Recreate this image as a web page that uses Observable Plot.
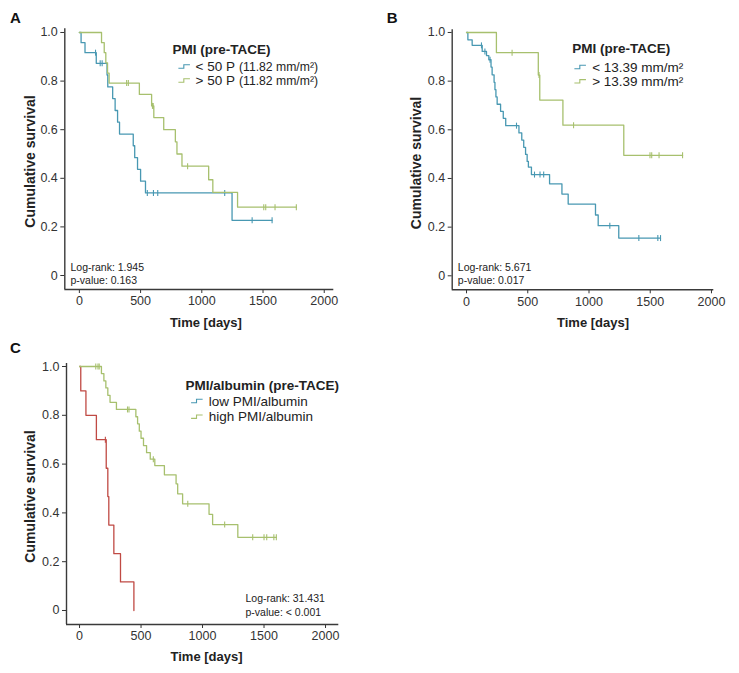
<!DOCTYPE html>
<html><head><meta charset="utf-8">
<script src="https://cdn.jsdelivr.net/npm/d3@7"></script>
<script src="https://cdn.jsdelivr.net/npm/@observablehq/plot@0.6"></script>
<style>
body{margin:0;background:#fff;font-family:"Liberation Sans",Arial,sans-serif;}
#root{position:relative;width:739px;height:673px;overflow:hidden;background:#fff;}
.panel{position:absolute;}
.letter{position:absolute;font-weight:bold;font-size:15px;line-height:15px;color:#111;}
</style></head><body><div id="root"></div>
<script>
// ---------- tick labels ----------
const xTicks = [0, 500, 1000, 1500, 2000];
const yTicks = [0, 0.2, 0.4, 0.6, 0.8, 1.0];

// ---------- Panel A: PMI (pre-TACE), 50th percentile ----------
const aLowTime = [0, 14, 46, 138, 226, 232, 272, 292, 312, 328, 440, 452, 475, 500, 540, 1247];
const aLowSurv = [1, 0.958, 0.917, 0.873, 0.825, 0.776, 0.728, 0.679, 0.631, 0.582, 0.534, 0.485, 0.437, 0.388, 0.34, 0.227];
const aLowCensor = [132, 170, 186, 555, 605, 640, 1187, 1411, 1574];
const aHighTime = [0, 181, 203, 216, 230, 243, 490, 590, 608, 689, 784, 797, 838, 1056, 1090, 1292];
const aHighSurv = [1, 0.958, 0.917, 0.875, 0.833, 0.792, 0.745, 0.698, 0.65, 0.60, 0.55, 0.50, 0.45, 0.394, 0.342, 0.281];
const aHighCensor = [386, 400, 597, 603, 884, 1506, 1522, 1598, 1772];
const aLegendTitle = "PMI (pre-TACE)";
const aLegendMain = ["< 50 P", "> 50 P"];
const aLegendSub = ["(11.82 mm/m²)", "(11.82 mm/m²)"];
const aStats = ["Log-rank: 1.945", "p-value: 0.163"];

// ---------- Panel B: PMI (pre-TACE), 13.39 mm/m² ----------
const bLowTime = [0, 11, 46, 128, 163, 182, 200, 209, 225, 232, 240, 250, 278, 300, 320, 428, 451, 467, 482, 495, 505, 530, 678, 779, 830, 1053, 1075, 1243];
const bLowSurv = [1, 0.970, 0.947, 0.922, 0.905, 0.888, 0.858, 0.826, 0.795, 0.765, 0.735, 0.705, 0.676, 0.647, 0.617, 0.587, 0.558, 0.528, 0.499, 0.470, 0.447, 0.416, 0.378, 0.336, 0.295, 0.25, 0.206, 0.155];
const bLowCensor = [122, 150, 192, 408, 555, 600, 630, 1170, 1407, 1562, 1584];
const bHighTime = [0, 244, 586, 598, 787, 1284];
const bHighSurv = [1, 0.917, 0.825, 0.722, 0.619, 0.495];
const bHighCensor = [372, 592, 874, 1498, 1512, 1572, 1764];
const bLegendTitle = "PMI (pre-TACE)";
const bLegendMain = ["< 13.39 mm/m²", "> 13.39 mm/m²"];
const bStats = ["Log-rank: 5.671", "p-value: 0.017"];

// ---------- Panel C: PMI/albumin (pre-TACE) ----------
const cLowTime = [0, 10, 52, 137, 217, 230, 238, 279, 333, 442];
const cLowSurv = [1, 0.9, 0.8, 0.7, 0.583, 0.467, 0.35, 0.233, 0.117, 0];
const cLowCensor = [210];
const cHighTime = [0, 178, 198, 214, 230, 248, 300, 458, 472, 486, 500, 520, 545, 575, 612, 690, 785, 798, 838, 1053, 1082, 1287];
const cHighSurv = [1, 0.971, 0.941, 0.912, 0.882, 0.853, 0.824, 0.794, 0.765, 0.735, 0.706, 0.676, 0.647, 0.62, 0.594, 0.556, 0.519, 0.478, 0.437, 0.394, 0.352, 0.30];
const cHighCensor = [132, 150, 160, 390, 402, 600, 880, 1180, 1408, 1500, 1522, 1580, 1600];
const cLegendTitle = "PMI/albumin (pre-TACE)";
const cLegendMain = ["low PMI/albumin", "high PMI/albumin"];
const cStats = ["Log-rank: 31.431", "p-value: < 0.001"];

const xTitle = "Time [days]";
const yTitle = "Cumulative survival";

// ---------- styling ----------
const BLUE = "#4898b2", GREEN = "#a7c06e", RED = "#c04a44";
const FONT = "'Liberation Sans', Arial, sans-serif";

const censorSymbol = {draw(ctx, size) { const r = Math.sqrt(size / Math.PI); ctx.moveTo(0, -r); ctx.lineTo(0, r); }};
const stepSymbol = {draw(ctx, size) { const r = Math.sqrt(size / Math.PI);
  ctx.moveTo(-1.8 * r, 0.5 * r); ctx.lineTo(-0.2 * r, 0.5 * r); ctx.lineTo(-0.2 * r, -0.5 * r); ctx.lineTo(1.6 * r, -0.5 * r); }};

function curveRows(times, surv, censor) {
  const rows = times.map((t, i) => ({t, s: surv[i]}));
  const last = censor.length ? Math.max(...censor) : 0;
  if (last > times[times.length - 1]) rows.push({t: last, s: surv[surv.length - 1]});
  return rows;
}
function censorRows(times, surv, censor) {
  return censor.map(c => { let s = surv[0]; for (let i = 0; i < times.length; i++) if (times[i] <= c) s = surv[i]; return {t: c, s}; });
}

function panel(cfg) {
  const at = (px, py) => ({frameAnchor: "top-left", dx: px - cfg.marginLeft, dy: py - cfg.marginTop});
  const marks = [
    Plot.ruleX([cfg.xDomain[0]], {stroke: "#3a3a3a", strokeWidth: 1.4}),
    Plot.ruleY([cfg.yDomain[0]], {stroke: "#3a3a3a", strokeWidth: 1.4})
  ];
  for (const sr of cfg.series) {
    marks.push(Plot.line(curveRows(sr.time, sr.surv, sr.censor), {x: "t", y: "s", curve: "step-after", stroke: sr.color, strokeWidth: 1.3}));
    marks.push(Plot.dot(censorRows(sr.time, sr.surv, sr.censor), {x: "t", y: "s", symbol: censorSymbol, r: 3, stroke: sr.color, fill: "none", strokeWidth: 1.1}));
  }
  const L = cfg.legend;
  marks.push(Plot.text([cfg.legendTitle], {...at(L.x, L.y), text: d => d, textAnchor: "start", lineAnchor: "bottom", fontSize: 13.5, fontWeight: "bold", fill: "#222"}));
  cfg.legendMain.forEach((lab, i) => {
    const by = L.rows[i];
    marks.push(Plot.dot([0], {...at(L.mx, by - 4.5), symbol: stepSymbol, r: 3.4, stroke: cfg.legendColors[i], fill: "none", strokeWidth: 1.1}));
    marks.push(Plot.text([lab], {...at(L.tx, by), text: d => d, textAnchor: "start", lineAnchor: "bottom", fontSize: 13.5, fill: "#222"}));
    if (cfg.legendSub) marks.push(Plot.text([cfg.legendSub[i]], {...at(L.sx, by), text: d => d, textAnchor: "start", lineAnchor: "bottom", fontSize: 12.2, fill: "#222"}));
  });
  cfg.stats.forEach((s, i) => marks.push(Plot.text([s], {...at(cfg.statsPos.x, cfg.statsPos.rows[i]), text: d => d, textAnchor: "start", lineAnchor: "bottom", fontSize: 10.5, fill: "#222"})));
  marks.push(Plot.text([yTitle], {...at(cfg.yTitle[0], cfg.yTitle[1]), text: d => d, rotate: -90, textAnchor: "middle", lineAnchor: "middle", fontSize: 14, fontWeight: "bold", fill: "#222"}));
  marks.push(Plot.text([xTitle], {...at(cfg.xTitle[0], cfg.xTitle[1]), text: d => d, textAnchor: "middle", lineAnchor: "bottom", fontSize: 13, fontWeight: "bold", fill: "#222"}));

  const svg = Plot.plot({
    width: cfg.width, height: cfg.height,
    marginLeft: cfg.marginLeft, marginRight: cfg.marginRight, marginTop: cfg.marginTop, marginBottom: cfg.marginBottom,
    style: {fontFamily: FONT, fontSize: "12.5px", color: "#333", background: "#fff", overflow: "visible"},
    x: {domain: cfg.xDomain, ticks: xTicks, tickFormat: d => String(d), tickSize: 4, tickPadding: 3, label: null},
    y: {domain: cfg.yDomain, ticks: yTicks, tickFormat: d => d === 0 ? "0" : d.toFixed(1), tickSize: 4, tickPadding: 3, label: null},
    marks
  });
  svg.classList.add("panel");
  svg.style.left = cfg.left + "px";
  svg.style.top = cfg.top + "px";
  svg.style.position = "absolute";
  return svg;
}

const root = document.getElementById("root");
root.append(panel({
  left: 0, top: 0, width: 370, height: 335,
  marginLeft: 64.3, marginRight: 36.7, marginTop: 28.3, marginBottom: 46,
  xDomain: [-119, 2078], yDomain: [-0.0576, 1.0152],
  series: [
    {time: aLowTime, surv: aLowSurv, censor: aLowCensor, color: BLUE},
    {time: aHighTime, surv: aHighSurv, censor: aHighCensor, color: GREEN}
  ],
  legendTitle: aLegendTitle, legendMain: aLegendMain, legendSub: aLegendSub, legendColors: [BLUE, GREEN],
  legend: {x: 172, y: 53, rows: [70.5, 84.5], mx: 184, tx: 195, sx: 238.5},
  stats: aStats, statsPos: {x: 70, rows: [270.5, 283]},
  yTitle: [30, 161], xTitle: [205.4, 326]
}));
root.append(panel({
  left: 370, top: 0, width: 369, height: 335,
  marginLeft: 81.7, marginRight: 25.7, marginTop: 29.3, marginBottom: 45.7,
  xDomain: [-117, 2019], yDomain: [-0.0575, 1.011],
  series: [
    {time: bLowTime, surv: bLowSurv, censor: bLowCensor, color: BLUE},
    {time: bHighTime, surv: bHighSurv, censor: bHighCensor, color: GREEN}
  ],
  legendTitle: bLegendTitle, legendMain: bLegendMain, legendColors: [BLUE, GREEN],
  legend: {x: 201.7, y: 52.7, rows: [71, 85.3], mx: 210, tx: 221.7},
  stats: bStats, statsPos: {x: 87.3, rows: [270.5, 283]},
  yTitle: [46, 162.5], xTitle: [222.5, 326]
}));
root.append(panel({
  left: 0, top: 334, width: 370, height: 339,
  marginLeft: 66, marginRight: 31.7, marginTop: 29, marginBottom: 49,
  xDomain: [-106, 2108], yDomain: [-0.0574, 1.0123],
  series: [
    {time: cLowTime, surv: cLowSurv, censor: cLowCensor, color: RED},
    {time: cHighTime, surv: cHighSurv, censor: cHighCensor, color: GREEN}
  ],
  legendTitle: cLegendTitle, legendMain: cLegendMain, legendColors: [BLUE, GREEN],
  legend: {x: 185, y: 55.3, rows: [71, 86.7], mx: 196.7, tx: 208.3},
  stats: cStats, statsPos: {x: 245, rows: [267.7, 281]},
  yTitle: [30, 162], xTitle: [206, 326]
}));
for (const [txt, x, y] of [["A", 10, 10.3], ["B", 386.7, 10.3], ["C", 10, 340.3]]) {
  const d = document.createElement("div");
  d.className = "letter"; d.textContent = txt; d.style.left = x + "px"; d.style.top = y + "px";
  root.append(d);
}
</script></body></html>
